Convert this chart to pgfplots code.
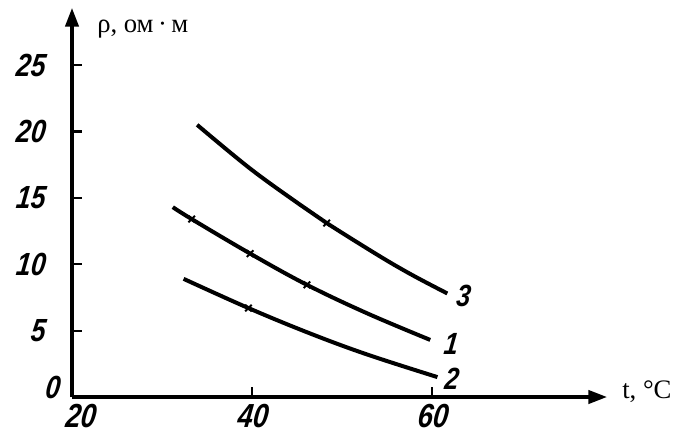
\documentclass[border=0pt]{standalone}
\usepackage{fontspec}
\setmainfont{Liberation Serif}
\newfontfamily\hand{Liberation Sans}[FakeStretch=0.82, FakeSlant=0.12]
\usepackage{pgfplots}
\pgfplotsset{compat=1.18}
\usetikzlibrary{arrows.meta}

\begin{document}
\begin{tikzpicture}[x=1pt,y=1pt]
\path[use as bounding box] (0,0) rectangle (510.75,327.75);
\begin{axis}[
  at={(54pt,30pt)}, anchor=south west,
  scale only axis, width=401.25pt, height=291.75pt,
  xmin=20, xmax=79.44, ymin=0, ymax=29.3,
  axis lines=left,
  axis line style={line width=2.4pt, -{Triangle[length=14pt,width=10pt]}},
  xtick={40,60}, ytick={5,10,15,20,25},
  extra x ticks={20},
  extra x tick style={xticklabel style={xshift=6pt}},
  extra y ticks={0},
  extra y tick style={yticklabel style={xshift=11pt, yshift=7pt}},
  tick align=inside, major tick length=7.5pt,
  tick style={line width=1.6pt, black},
  /pgf/number format/assume math mode=true,
  yticklabel style={font=\hand\bfseries\itshape\fontsize{24}{24}\selectfont, xshift=-17pt},
  xticklabel style={font=\hand\bfseries\itshape\fontsize{25}{25}\selectfont, yshift=-2pt},
  clip=false,
]
\addplot[line width=3pt, smooth, tension=0.6] coordinates {
  (33.9,20.5) (39.8,17.2) (45.3,14.5) (48.3,13.1) (54.2,10.6) (57.9,9.15) (61.7,7.8)};
\addplot[line width=3pt, smooth, tension=0.6] coordinates {
  (31.2,14.3) (33.3,13.4) (39.8,10.8) (46.1,8.45) (52.8,6.3) (59.8,4.3)};
\addplot[line width=3pt, smooth, tension=0.6] coordinates {
  (32.4,8.9) (39.6,6.7) (46.4,4.8) (52.8,3.2) (60.6,1.5)};
\addplot[only marks, mark=x, mark size=3.5pt, line width=1.5pt] coordinates {
  (33.3,13.4) (39.8,10.8) (46.1,8.45) (48.3,13.1) (39.6,6.7)};
\node[font=\hand\bfseries\itshape\fontsize{23}{23}\selectfont] at (axis cs:63.4,7.6) {3};
\node[font=\hand\bfseries\itshape\fontsize{23}{23}\selectfont] at (axis cs:62.0,4.0) {1};
\node[font=\hand\bfseries\itshape\fontsize{23}{23}\selectfont] at (axis cs:62.1,1.36) {2};
\end{axis}
\node[anchor=base west, font=\fontsize{20}{20}\selectfont, inner sep=0pt] at (72.75,303.75) {ρ, ом\,·\,м};
\node[anchor=base west, font=\fontsize{20}{20}\selectfont, inner sep=0pt] at (466.5,29.25) {t, °C};
\end{tikzpicture}
\end{document}
